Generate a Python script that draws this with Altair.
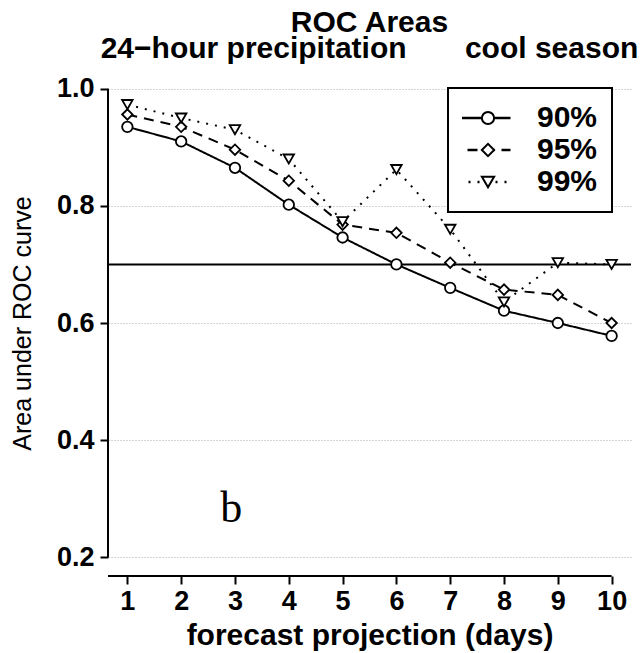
import altair as alt
import pandas as pd

# ---- data ----
days = [1, 2, 3, 4, 5, 6, 7, 8, 9, 10]
series_names = ["90%", "95%", "99%"]
roc_90 = [0.935, 0.910, 0.865, 0.802, 0.746, 0.700, 0.660, 0.621, 0.600, 0.578]
roc_95 = [0.956, 0.935, 0.896, 0.843, 0.768, 0.754, 0.703, 0.657, 0.648, 0.600]
roc_99 = [0.973, 0.950, 0.930, 0.880, 0.773, 0.862, 0.760, 0.636, 0.703, 0.700]
y_ticks = [0.2, 0.4, 0.6, 0.8, 1.0]
reference_value = 0.7
panel_label = ["b"]
panel_label_x = [2.93]
panel_label_y = [0.26]
title_lines = ["ROC Areas",
               "24\u2212hour precipitation" + "\u00a0" * 7 + "cool season"]
x_title = "forecast projection (days)"
y_title = "Area under ROC curve"

FONT = "Liberation Sans"
W, H = 523, 506
x_min, x_max = 0.64, 10.36
y_min, y_max = 0.168, 1.032

df = pd.DataFrame({
    "day": days * 3,
    "roc": roc_90 + roc_95 + roc_99,
    "series": [s for s in series_names for _ in days],
})
df["marker"] = df["series"]

x_scale = alt.Scale(domain=[x_min, x_max], nice=False, zero=False)
y_scale = alt.Scale(domain=[y_min, y_max], nice=False, zero=False)

x_axis = alt.Axis(values=days, format="d", domain=False, grid=False,
                  tickSize=8, tickWidth=2, tickColor="black",
                  labelFont=FONT, labelFontSize=27, labelFontWeight="bold",
                  labelColor="black", labelPadding=4, labelFlush=False,
                  title=x_title, titleFont=FONT, titleFontSize=30,
                  titleFontWeight="bold", titleColor="black", titlePadding=6)
y_axis = alt.Axis(values=y_ticks, format=".1f", domain=False, grid=True,
                  gridDash=[1, 2], gridColor="#a8a8a8", gridWidth=1,
                  tickSize=8, tickWidth=2, tickColor="black",
                  labelFont=FONT, labelFontSize=27, labelFontWeight="bold",
                  labelColor="black", labelPadding=6,
                  title=y_title, titleFont=FONT, titleFontSize=25,
                  titleFontWeight="normal", titleColor="black", titlePadding=21)

dash_legend = alt.Legend(orient="none", legendX=340, legendY=18, title=None,
                         symbolType="stroke", symbolSize=3600, symbolOffset=-13,
                         symbolStrokeWidth=2.5, symbolStrokeColor="black",
                         labelFont=FONT, labelFontSize=30, labelFontWeight="bold",
                         labelColor="black", labelOffset=25, padding=14,
                         strokeColor="black", fillColor="white",
                         clipHeight=32, rowPadding=0)
shape_legend = alt.Legend(orient="none", legendX=340, legendY=18, title=None,
                          symbolSize=150, symbolStrokeWidth=2, symbolOffset=11,
                          symbolStrokeColor="black", symbolFillColor="transparent",
                          labelExpr="''", labelFont=FONT, labelFontSize=30,
                          labelOffset=25, padding=14,
                          clipHeight=32, rowPadding=0)

base = alt.Chart(df)
X = alt.X("day:Q", scale=x_scale, axis=x_axis)
Y = alt.Y("roc:Q", scale=y_scale, axis=y_axis)

lines = base.mark_line(color="black", strokeWidth=2).encode(
    x=X, y=Y,
    strokeDash=alt.StrokeDash("series:N",
                              scale=alt.Scale(domain=series_names,
                                              range=[[1, 0], [10, 7], [2, 7]]),
                              legend=dash_legend),
    detail="series:N",
)

points = base.mark_point(filled=False, fill="white", fillOpacity=1,
                         strokeWidth=1.8, size=110, opacity=1).encode(
    x=X, y=Y,
    shape=alt.Shape("marker:N",
                    scale=alt.Scale(range=["circle", "diamond", "triangle-down"]),
                    legend=shape_legend),
    stroke=alt.Stroke("marker:N",
                      scale=alt.Scale(range=["black", "black", "black"]),
                      legend=None),
)

ref_df = pd.DataFrame({"v": [reference_value]})
ref_line = alt.Chart(ref_df).mark_rule(color="black", strokeWidth=2).encode(
    y=alt.Y("v:Q", scale=y_scale, axis=y_axis))

y_axis_line = alt.Chart(ref_df).mark_rule(color="black", strokeWidth=2).encode(
    x=alt.value(0),
    y=alt.datum(y_ticks[0], scale=y_scale, axis=y_axis),
    y2=alt.datum(y_ticks[-1]))

x_axis_line = alt.Chart(ref_df).mark_rule(color="black", strokeWidth=2).encode(
    y=alt.value(H),
    x=alt.datum(x_min, scale=x_scale, axis=x_axis),
    x2=alt.datum(days[-1]))

label_df = pd.DataFrame({"x": panel_label_x, "y": panel_label_y, "t": panel_label})
label = alt.Chart(label_df).mark_text(font="Liberation Serif", fontSize=44,
                                      baseline="alphabetic", align="center",
                                      color="black").encode(
    x=alt.X("x:Q", scale=x_scale, axis=x_axis),
    y=alt.Y("y:Q", scale=y_scale, axis=y_axis),
    text="t:N")

chart = alt.layer(lines, ref_line, y_axis_line, x_axis_line, points, label).properties(
    width=W, height=H,
    autosize=alt.AutoSizeParams(type="none"),
    padding={"left": 108, "top": 70, "right": 13, "bottom": 77},
    background="white",
    title=alt.TitleParams(text=title_lines, font=FONT, fontSize=30,
                          fontWeight="bold", color="black", anchor="middle",
                          offset=6, lineHeight=26),
).configure_view(stroke=None).configure_legend(strokeWidth=2)

chart.save("out.html", embed_options={"renderer": "svg", "actions": False})
